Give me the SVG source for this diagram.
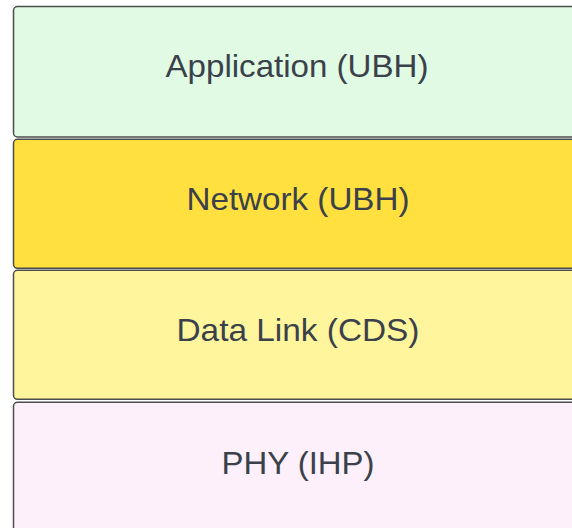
<svg xmlns="http://www.w3.org/2000/svg" width="572" height="528" viewBox="0 0 572 528">
  <style>
    .layer { stroke: #4d4d4d; stroke-width: 1.5; }
    .label { font-family: "Liberation Sans", Arial, sans-serif; font-size: 30.5px; fill: #3a414b; text-anchor: middle; }
  </style>
  <rect width="572" height="528" fill="#ffffff"/>
  <!-- protocol stack layers, top to bottom -->
  <g id="application">
    <rect class="layer" x="13.5" y="6.5" width="580" height="130.5" rx="4" fill="#e1fae3"/>
    <text class="label" x="297" y="77" textLength="263" lengthAdjust="spacingAndGlyphs">Application (UBH)</text>
  </g>
  <g id="network">
    <rect class="layer" x="13.5" y="139.3" width="580" height="129" rx="4" fill="#ffe03e"/>
    <text class="label" x="298" y="210" textLength="223" lengthAdjust="spacingAndGlyphs">Network (UBH)</text>
  </g>
  <g id="data-link">
    <rect class="layer" x="13.5" y="270.3" width="580" height="129" rx="4" fill="#fff59c"/>
    <text class="label" x="298" y="341" textLength="243" lengthAdjust="spacingAndGlyphs">Data Link (CDS)</text>
  </g>
  <g id="phy">
    <rect class="layer" x="13.5" y="402.3" width="580" height="140" rx="4" fill="#fef0fa"/>
    <text class="label" x="298" y="474" textLength="153" lengthAdjust="spacingAndGlyphs">PHY (IHP)</text>
  </g>
  <g id="connectors"/>
</svg>
